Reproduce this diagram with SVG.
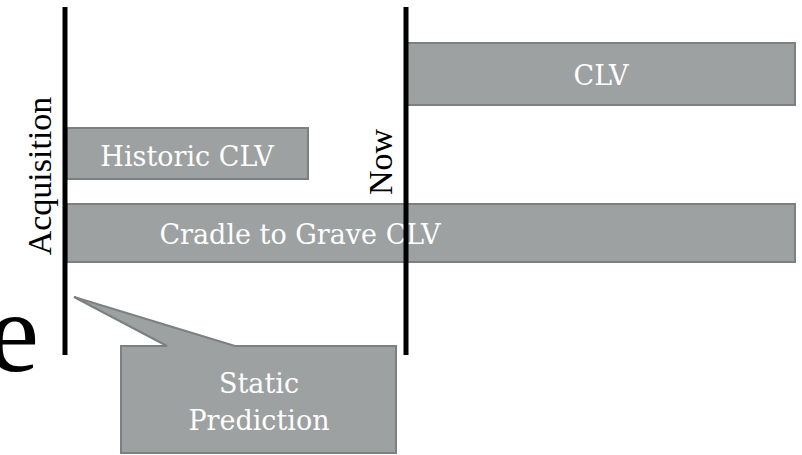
<svg xmlns="http://www.w3.org/2000/svg" width="802" height="455" viewBox="0 0 802 455">
<style>
.bar{fill:#9ea1a1;stroke:#7d8080;stroke-width:2}
.lbl{font-family:"DejaVu Serif","Liberation Serif",serif;font-size:27px;fill:#ffffff;text-anchor:middle}
.axis{font-family:"Liberation Serif","Times New Roman",serif;font-size:34px;fill:#000000;text-anchor:middle}
.big{font-family:"Liberation Serif","Times New Roman",serif;font-size:115px;fill:#000000}
.vline{stroke:#000000;stroke-width:5}
</style>
<rect width="802" height="455" fill="#ffffff"/>
<text class="big" x="-12" y="371">e</text>
<g id="clv">
<rect class="bar" x="407" y="43" width="388" height="62"/>
<text class="lbl" x="601" y="85">CLV</text>
</g>
<g id="historic-clv">
<rect class="bar" x="67" y="128" width="241" height="51"/>
<text class="lbl" x="187" y="166">Historic CLV</text>
</g>
<g id="cradle-to-grave-clv">
<rect class="bar" x="67" y="204" width="728" height="58"/>
<text class="lbl" x="300" y="244">Cradle to Grave CLV</text>
</g>
<g id="connectors">
<line class="vline" x1="65" y1="7" x2="65" y2="355"/>
<line class="vline" x1="406" y1="7" x2="406" y2="355"/>
</g>
<g id="acquisition">
<text class="axis" transform="translate(51,176) rotate(-90)">Acquisition</text>
</g>
<g id="now">
<text class="axis" transform="translate(392,162) rotate(-90)">Now</text>
</g>
<g id="static-prediction">
<path class="bar" d="M121,346 L167,346 L74,297 L235,346 L396,346 L396,453 L121,453 Z"/>
<text class="lbl" x="259" y="393">Static</text>
<text class="lbl" x="259" y="430">Prediction</text>
</g>
</svg>
